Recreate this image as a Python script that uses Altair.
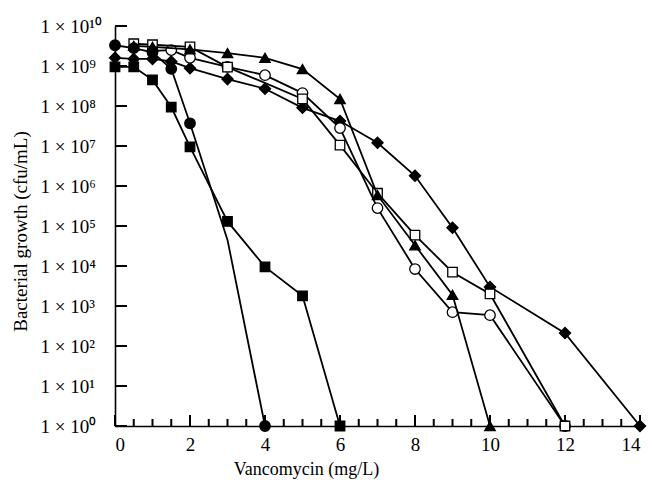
import altair as alt
import pandas as pd

# ---------------- data ----------------
# filled circle
fc_x = [0, 0.5, 1, 1.5, 2, 3, 4]
fc_y = [3.3e9, 2.8e9, 2.2e9, 8.5e8, 3.7e7, 4.5e4, 1]
fc_unmarked = [3]
# filled square
fs_x = [0, 0.5, 1, 1.5, 2, 3, 4, 5, 6]
fs_y = [9.5e8, 9.5e8, 4.5e8, 9.4e7, 9.5e6, 1.3e5, 9.5e3, 1.8e3, 1]
# filled diamond
fd_x = [0, 0.5, 1, 1.5, 2, 3, 4, 5, 6, 7, 8, 9, 10, 12, 14]
fd_y = [1.6e9, 1.5e9, 1.5e9, 1.3e9, 8.8e8, 4.7e8, 2.7e8, 9e7, 4.2e7, 1.2e7, 1.8e6, 9e4, 3e3, 210, 1]
# open circle
oc_x = [1, 1.5, 2, 3, 4, 5, 6, 7, 8, 9, 10, 12]
oc_y = [2.4e9, 2.5e9, 1.6e9, 9.5e8, 5.9e8, 2.1e8, 2.8e7, 2.8e5, 8.4e3, 700, 590, 1]
# open square
os_x = [0.5, 1, 2, 3, 5, 6, 7, 8, 9, 10, 12]
os_y = [3.6e9, 3.4e9, 3.0e9, 9.4e8, 1.5e8, 1.05e7, 6.6e5, 5.9e4, 7e3, 2e3, 1]
# filled triangle
ft_x = [0.5, 1, 2, 3, 4, 5, 6, 7, 8, 9, 10]
ft_y = [3.2e9, 3.0e9, 2.6e9, 2.1e9, 1.6e9, 8.4e8, 1.5e8, 5.9e5, 3.3e4, 1.9e3, 1]

x_major = [0, 2, 4, 6, 8, 10, 12, 14]
x_minor = [0.5, 1, 1.5, 2.5, 3, 3.5, 4.5, 5, 5.5, 6.5, 7, 7.5, 8.5, 9, 9.5,
           10.5, 11, 11.5, 12.5, 13, 13.5]
y_ticks = [1, 1e1, 1e2, 1e3, 1e4, 1e5, 1e6, 1e7, 1e8, 1e9, 1e10]
y_labels = ["1 × 10⁰", "1 × 10¹", "1 × 10²", "1 × 10³", "1 × 10⁴", "1 × 10⁵",
            "1 × 10⁶", "1 × 10⁷", "1 × 10⁸", "1 × 10⁹", "1 × 10¹⁰"]

FONT = "Liberation Serif"
W, H = 525, 400
X_MAX = 14
DECADES = 10

xscale = alt.Scale(domain=[0, X_MAX], nice=False, zero=False)
yscale = alt.Scale(type="log", domain=[1, 10 ** DECADES], nice=False)

label_expr = "[" + ",".join("'%s'" % s for s in y_labels) + "][round(log(datum.value)/LN10)]"

xaxis = alt.Axis(values=x_major, format="d", ticks=False, tickSize=0, grid=False,
                 labelFontSize=19, labelPadding=9, labelColor="black", labelFont=FONT,
                 domainColor="black", domainWidth=1.6,
                 title="Vancomycin (mg/L)", titleFontSize=18, titleFont=FONT,
                 titleFontWeight="normal", titleColor="black",
                 titleX=191, titleY=48, titleAlign="center", titleBaseline="alphabetic")
yaxis = alt.Axis(values=y_ticks, labelExpr=label_expr, ticks=False, tickSize=0, grid=False,
                 labelFontSize=19, labelPadding=75, labelAlign="left", labelBaseline="middle",
                 labelColor="black", labelFont=FONT, labelFlush=False, labelOverlap=False,
                 domainColor="black", domainWidth=1.6,
                 title="Bacterial growth (cfu/mL)", titleFontSize=19, titleFont=FONT,
                 titleFontWeight="normal", titleColor="black", titleAngle=-90,
                 titleX=-95, titleY=205, titleAlign="center", titleBaseline="middle")


# inward tick marks drawn as rules; pixel lengths converted to data units
def px_to_decades(px):
    return 10 ** (px * DECADES / H)


def px_to_x(px):
    return px * X_MAX / W


minor_df = pd.DataFrame({"x": x_minor})
minor_df["y0"] = 1.0
minor_df["y1"] = px_to_decades(7)
major_df = pd.DataFrame({"x": x_major})
major_df["y0"] = 1.0
major_df["y1"] = px_to_decades(11)
ytick_df = pd.DataFrame({"y": y_ticks})
ytick_df["x0"] = 0.0
ytick_df["x1"] = px_to_x(12)

TICK_W = 2

base_axes = alt.Chart(major_df).mark_point(opacity=0).encode(
    x=alt.X("x:Q", scale=xscale, axis=xaxis),
    y=alt.Y("y0:Q", scale=yscale, axis=yaxis),
)
minor_ticks = alt.Chart(minor_df).mark_rule(color="black", strokeWidth=TICK_W).encode(
    x=alt.X("x:Q", scale=xscale), y=alt.Y("y0:Q", scale=yscale), y2="y1:Q")
major_ticks = alt.Chart(major_df).mark_rule(color="black", strokeWidth=TICK_W).encode(
    x=alt.X("x:Q", scale=xscale), y=alt.Y("y0:Q", scale=yscale), y2="y1:Q")
y_tick_rules = alt.Chart(ytick_df).mark_rule(color="black", strokeWidth=TICK_W).encode(
    y=alt.Y("y:Q", scale=yscale), x=alt.X("x0:Q", scale=xscale), x2="x1:Q")


def series(xs, ys, shape, filled, size, unmarked=()):
    df = pd.DataFrame({"x": xs, "y": ys})
    enc = dict(x=alt.X("x:Q", scale=xscale), y=alt.Y("y:Q", scale=yscale))
    line = alt.Chart(df).mark_line(color="black", strokeWidth=1.8).encode(**enc)
    mdf = df[~df["x"].isin(list(unmarked))]
    pts = alt.Chart(mdf).mark_point(
        shape=shape, filled=True, size=size,
        fill="black" if filled else "white",
        stroke="black", strokeWidth=1.3, opacity=1).encode(**enc)
    return [line, pts]


layers = [base_axes, minor_ticks, major_ticks, y_tick_rules]
layers += series(fd_x, fd_y, "diamond", True, 125)
layers += series(oc_x, oc_y, "circle", False, 110)
layers += series(os_x, os_y, "square", False, 90)
layers += series(ft_x, ft_y, "triangle-up", True, 110)
layers += series(fs_x, fs_y, "square", True, 90)
layers += series(fc_x, fc_y, "circle", True, 110, fc_unmarked)

chart = alt.layer(*layers).properties(
    width=W, height=H,
    autosize=alt.AutoSizeParams(type="none"),
    padding={"left": 115, "top": 26, "right": 13, "bottom": 58},
    background="white",
).configure_view(stroke=None)

chart.save("out.html", embed_options={"renderer": "svg", "actions": False})
